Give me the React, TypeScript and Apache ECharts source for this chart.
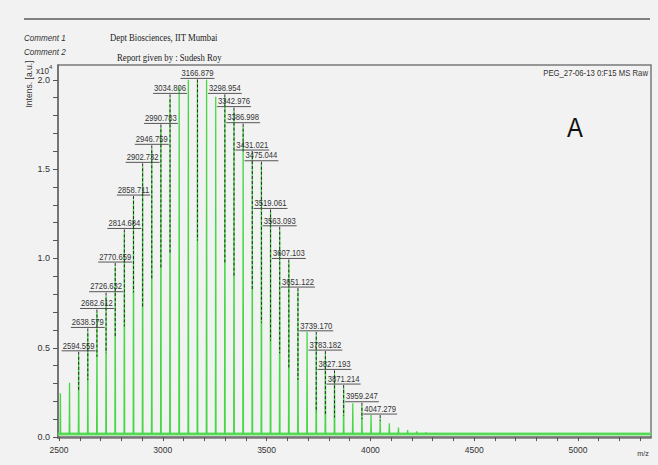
import React, { useEffect, useRef } from "react";
import * as echarts from "echarts";

// m/z of every peak of the spectrum (green sticks)
const peakMz = [
  2506.5, 2550.5, 2594.559, 2638.579, 2682.612, 2726.632, 2770.659, 2814.684,
  2858.711, 2902.732, 2946.759, 2990.783, 3034.806, 3078.8, 3122.9, 3166.879,
  3210.9, 3254.9, 3298.954, 3342.976, 3386.998, 3431.021, 3475.044, 3519.061,
  3563.093, 3607.103, 3651.122, 3695.1, 3739.17, 3783.182, 3827.193, 3871.214,
  3915.2, 3959.247, 4003.3, 4047.279, 4091.3, 4135.3, 4179.3, 4223.4, 4267.4,
  4311.4, 4355.4, 4399.5, 4443.5,
];
// intensities (x10^4 a.u.)
const peakIntensity = [
  0.245, 0.304, 0.46, 0.59, 0.7, 0.79, 0.955, 1.145, 1.33, 1.515, 1.615, 1.735,
  1.9, 1.96, 2.0, 1.99, 2.0, 1.905, 1.9, 1.83, 1.74, 1.585, 1.525, 1.26, 1.16,
  0.98, 0.82, 0.59, 0.57, 0.465, 0.355, 0.275, 0.19, 0.175, 0.123, 0.105, 0.077,
  0.054, 0.04, 0.032, 0.026, 0.022, 0.02, 0.018, 0.016,
];
const baselineLevel = 0.018;

// annotated peaks
const labelMz = [
  2594.559, 2638.579, 2682.612, 2726.632, 2770.659, 2814.684, 2858.711,
  2902.732, 2946.759, 2990.783, 3034.806, 3166.879, 3298.954, 3342.976,
  3386.998, 3431.021, 3475.044, 3519.061, 3563.093, 3607.103, 3651.122,
  3739.17, 3783.182, 3827.193, 3871.214, 3959.247, 4047.279,
];
// height (x10^4) at which each label's underline sits
const labelLevel = [
  0.483, 0.614, 0.72, 0.814, 0.98, 1.168, 1.355, 1.538, 1.639, 1.756, 1.924,
  2.008, 1.924, 1.85, 1.76, 1.607, 1.547, 1.28, 1.183, 1.0, 0.84, 0.595, 0.487,
  0.379, 0.297, 0.198, 0.129,
];
// lower end of each dashed leader line (x10^4)
const dashEnd = [
  0.263, 0.32, 0.45, 0.47, 0.56, 0.62, 0.81, 0.73, 0.88, 0.95, 1.03, 1.1, 0.97,
  0.9, 1.6, 0.82, 0.64, 0.54, 0.47, 0.39, 0.32, 0.14, 0.13, 0.11, 0.12, 0.1,
  0.09,
];

const xLabelValues = [2500, 3000, 3500, 4000, 4500, 5000];
const xTickValues = [
  2500, 2600, 2700, 2800, 2900, 3000, 3100, 3200, 3300, 3400, 3500, 3600, 3700,
  3800, 3900, 4000, 4100, 4200, 4300, 4400, 4500, 4600, 4700, 4800, 4900, 5000,
  5100, 5200, 5300,
];
const yLabelValues = [0, 0.5, 1.0, 1.5, 2.0];
const yTickValues = [
  0, 0.1, 0.2, 0.3, 0.4, 0.5, 0.6, 0.7, 0.8, 0.9, 1.0, 1.1, 1.2, 1.3, 1.4, 1.5,
  1.6, 1.7, 1.8, 1.9, 2.0,
];

const X_MIN = 2495;
const X_MAX = 5352;
const SANS = "'Liberation Sans', Arial, sans-serif";
const SERIF = "'Liberation Serif', 'Times New Roman', serif";
const LABEL_SIZE = 9;
const SQUEEZE = 0.85;
const PEAK_HALF_WIDTH = 1.5;

let measureCtx: CanvasRenderingContext2D | null = null;
function textWidth(t: string, size: number) {
  if (!measureCtx) measureCtx = document.createElement("canvas").getContext("2d");
  if (!measureCtx) return t.length * size * 0.55;
  measureCtx.font = `${size}px ${SANS}`;
  return measureCtx.measureText(t).width;
}

export default function App() {
  const ref = useRef<HTMLDivElement>(null);

  useEffect(() => {
    if (!ref.current) return;
    const chart = echarts.init(ref.current, undefined, { renderer: "svg" });

    const spectrum: number[][] = [[X_MIN, baselineLevel]];
    peakMz.forEach((m, i) => {
      spectrum.push([m - PEAK_HALF_WIDTH, baselineLevel]);
      spectrum.push([m, peakIntensity[i]]);
      spectrum.push([m + PEAK_HALF_WIDTH, baselineLevel]);
    });
    spectrum.push([X_MAX, baselineLevel]);

    const labelData = labelMz.map((m, i) => [m, labelLevel[i], dashEnd[i]]);

    const gText = (
      text: string,
      x: number,
      y: number,
      extra: Record<string, any> = {},
      props: Record<string, any> = {}
    ) => ({
      type: "text",
      x,
      y,
      silent: true,
      ...props,
      style: {
        text,
        fill: "#333",
        fontFamily: SANS,
        fontSize: 9,
        verticalAlign: "middle",
        ...extra,
      },
    });

    chart.setOption({
      animation: false,
      backgroundColor: "#f2f2f2",
      grid: {
        left: 58,
        right: 7,
        top: 65,
        bottom: 27,
        show: true,
        borderColor: "#7a7a7a",
        borderWidth: 1.5,
        backgroundColor: "transparent",
      },
      xAxis: {
        type: "value",
        min: X_MIN,
        max: X_MAX,
        axisLine: { show: true, lineStyle: { color: "#6a6a6a", width: 1.5 } },
        axisTick: {
          show: true,
          customValues: xTickValues,
          length: 4,
          lineStyle: { color: "#555" },
        },
        axisLabel: {
          customValues: xLabelValues,
          fontSize: 8.5,
          color: "#333",
          margin: 7,
          fontFamily: SANS,
          formatter: (v: number) => String(v),
        },
        splitLine: { show: false },
      },
      yAxis: {
        type: "value",
        min: -0.005,
        max: 2.083,
        axisLine: { show: true, lineStyle: { color: "#6a6a6a", width: 1.5 } },
        axisTick: {
          show: true,
          customValues: yTickValues,
          length: 5,
          lineStyle: { color: "#555" },
        },
        axisLabel: {
          customValues: yLabelValues,
          fontSize: 9,
          color: "#333",
          margin: 8,
          fontFamily: SANS,
          formatter: (v: number) => v.toFixed(1),
        },
        splitLine: { show: false },
      },
      series: [
        {
          type: "line",
          data: [
            [X_MIN, baselineLevel],
            [X_MAX, baselineLevel],
          ],
          showSymbol: false,
          symbol: "none",
          lineStyle: { color: "#6fe06f", width: 3 },
          z: 1,
          silent: true,
        },
        {
          type: "line",
          data: spectrum,
          showSymbol: false,
          symbol: "none",
          lineStyle: { color: "#45d845", width: 1.3 },
          z: 2,
          silent: true,
        },
        {
          type: "custom",
          data: labelData,
          encode: { x: 0, y: 1 },
          clip: false,
          z: 3,
          silent: true,
          renderItem: (params: any, api: any) => {
            const mz = api.value(0);
            const top = api.coord([mz, api.value(1)]);
            const bot = api.coord([mz, api.value(2)]);
            const label = Number(mz).toFixed(3);
            const w = textWidth(label, LABEL_SIZE) * SQUEEZE + 2;
            return {
              type: "group",
              children: [
                {
                  type: "line",
                  shape: { x1: top[0], y1: top[1] + 1, x2: bot[0], y2: bot[1] },
                  style: { stroke: "#2a2a2a", lineWidth: 1, lineDash: [3, 2] },
                },
                {
                  type: "line",
                  shape: { x1: top[0] - w / 2, y1: top[1], x2: top[0] + w / 2, y2: top[1] },
                  style: { stroke: "#555", lineWidth: 1 },
                },
                {
                  type: "text",
                  x: top[0],
                  y: top[1] - 1,
                  scaleX: SQUEEZE,
                  style: {
                    text: label,
                    fill: "#333",
                    fontFamily: SANS,
                    fontSize: LABEL_SIZE,
                    align: "center",
                    verticalAlign: "bottom",
                  },
                },
              ],
            };
          },
        },
      ],
      graphic: [
        {
          type: "line",
          silent: true,
          shape: { x1: 24, y1: 19, x2: 650, y2: 19 },
          style: { stroke: "#808080", lineWidth: 2 },
        },
        gText("Comment 1", 24, 38, { fontStyle: "italic", fontSize: 9.5 }, { scaleX: SQUEEZE }),
        gText("Comment 2", 24, 52, { fontStyle: "italic", fontSize: 9.5 }, { scaleX: SQUEEZE }),
        gText("Dept Biosciences, IIT Mumbai", 110, 38, { fontFamily: SERIF, fontSize: 10, fill: "#222" }, { scaleX: 0.87 }),
        gText("Report given by : Sudesh Roy", 117, 58, { fontFamily: SERIF, fontSize: 10, fill: "#222" }, { scaleX: 0.87 }),
        gText("x10", 36, 71, { fontSize: 9 }, { scaleX: 0.9 }),
        gText("4", 49, 67, { fontSize: 6 }),
        gText("Intens. [a.u.]", 29, 84, { fontSize: 9, align: "center" }, { rotation: Math.PI / 2, scaleX: 0.95 }),
        gText("PEG_27-06-13 0:F15 MS Raw", 648, 73, { fontSize: 9, align: "right" }, { scaleX: 0.86 }),
        gText("A", 575, 127, { fontSize: 28, align: "center", fill: "#111" }, { scaleX: 0.85 }),
        gText("m/z", 643, 453, { fontSize: 8, align: "center" }, { scaleX: 0.9 }),
      ],
    });

    return () => chart.dispose();
  }, []);

  return (
    <div
      ref={ref}
      style={{ position: "fixed", left: 0, top: 0, width: 658, height: 465 }}
    />
  );
}
